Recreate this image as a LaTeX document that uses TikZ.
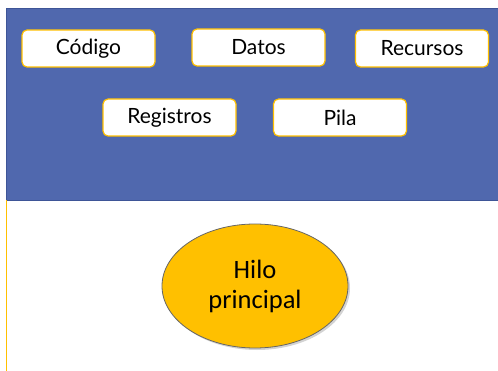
\documentclass[tikz,border=0pt]{standalone}
\usepackage{fontspec}
\setmainfont{Carlito}
\newfontfamily\boxfont{Lato}
\usepackage{tikz}
\usetikzlibrary{shapes.geometric,shadows}

\definecolor{panelblue}{HTML}{5068AE}
\definecolor{paneledge}{HTML}{3E5597}
\definecolor{hiloyellow}{HTML}{FFC000}

\begin{document}
\begin{tikzpicture}[x=1pt,y=-1pt,
    part/.style={draw=hiloyellow,fill=white,line width=1.2pt,rounded corners=5pt,
      minimum width=133pt,minimum height=37pt,font=\boxfont\fontsize{21}{24}\selectfont},
    thread/.style={ellipse,draw=black!60,fill=hiloyellow,line width=0.8pt,
      minimum width=186pt,minimum height=124pt,align=center,
      font=\fontsize{26.5}{30}\selectfont,drop shadow={opacity=0.35,shadow xshift=2pt,shadow yshift=-2pt}}]

    \useasboundingbox (0,0) rectangle (498,371);

    \draw[fill=panelblue,draw=paneledge] (6,8) rectangle (499,200);
    \draw[hiloyellow,line width=1pt] (6,200) -- (6,371);

    \node[part]         (codigo) at (88.5, 48.5)     {Código};
    \node[part]         (datos) at (258.5, 47.5)     {Datos};
    \node[part]         (recursos) at (422, 48.5)    {Recursos};
    \node[part]         (registros) at (169.5, 117.5) {Registros};
    \node[part]         (pila) at (340, 117.5)       {Pila};

    \node[thread]       (hilo) at (255, 286)         {Hilo\\principal};
\end{tikzpicture}
\end{document}
